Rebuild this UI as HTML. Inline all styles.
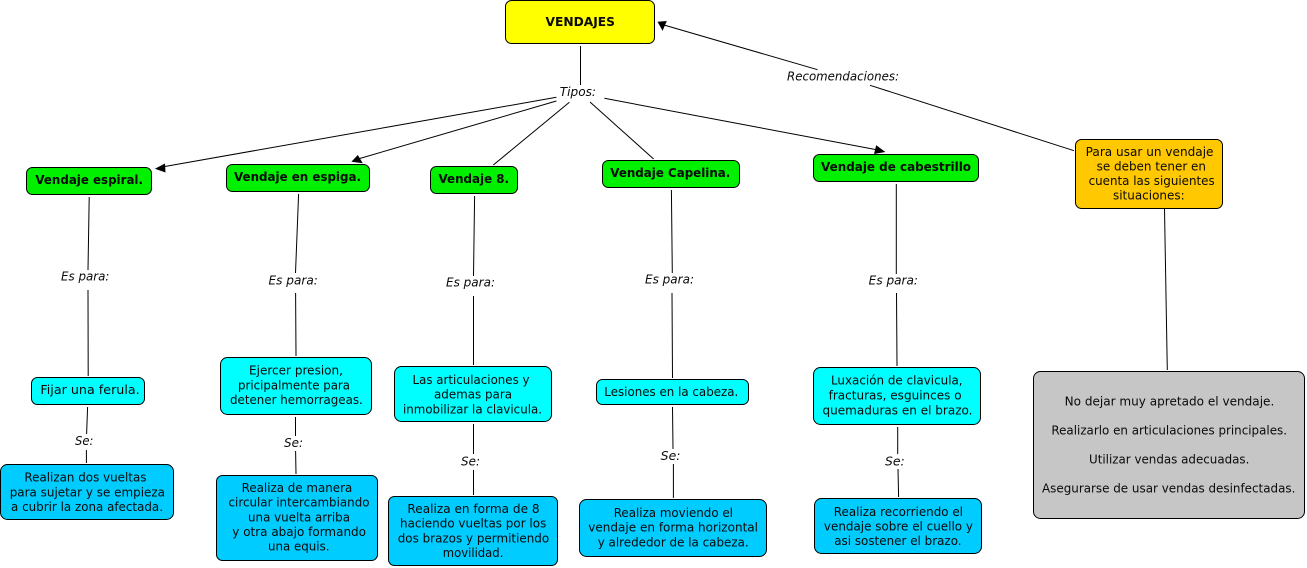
<!DOCTYPE html>
<html lang="es"><head><meta charset="utf-8"><title>Vendajes</title>
<style>
html,body{margin:0;padding:0;background:#fff;width:1307px;height:568px;overflow:hidden}
svg{display:block}
text{font-family:"DejaVu Sans","Liberation Sans",sans-serif;font-size:12px;fill:#0a0a0a}
.b{font-weight:bold}
.i{font-style:italic}
rect{stroke:#000;stroke-width:1}
line{stroke:#000;stroke-width:1}
polygon{fill:#000}
</style></head><body>
<svg width="1307" height="568" viewBox="0 0 1307 568" xmlns="http://www.w3.org/2000/svg">
<g>
<line x1="580.5" y1="46" x2="580.5" y2="85"/>
<line x1="556.4" y1="97.3" x2="162" y2="167"/>
<line x1="556.4" y1="101" x2="358" y2="159"/>
<line x1="569.4" y1="102.3" x2="493.3" y2="165"/>
<line x1="590" y1="102" x2="653.6" y2="159"/>
<line x1="604.4" y1="98.3" x2="878" y2="150"/>
<line x1="817.6" y1="69.7" x2="664" y2="25"/>
<line x1="870" y1="85.3" x2="1074" y2="150.7"/>
<line x1="89.2" y1="197" x2="88" y2="270"/><line x1="88" y1="290" x2="88.2" y2="376"/>
<line x1="298.6" y1="194" x2="295.5" y2="273"/><line x1="295.6" y1="293" x2="296" y2="356"/>
<line x1="474.6" y1="196" x2="473.5" y2="276"/><line x1="473.5" y1="296" x2="473.5" y2="365"/>
<line x1="671.4" y1="190" x2="672.3" y2="273"/><line x1="672" y1="293" x2="672.5" y2="378"/>
<line x1="896.3" y1="184" x2="896.3" y2="274"/><line x1="896.5" y1="293" x2="897" y2="366"/>
<line x1="1164.5" y1="209" x2="1167.3" y2="370"/>
<line x1="87.6" y1="407" x2="86.6" y2="434"/><line x1="86.4" y1="450" x2="86.4" y2="463"/>
<line x1="295.5" y1="417" x2="295.5" y2="436"/><line x1="295.6" y1="451" x2="296" y2="474"/>
<line x1="473.5" y1="424" x2="473.5" y2="454"/><line x1="473.5" y1="470" x2="473.5" y2="495"/>
<line x1="672.5" y1="407" x2="673" y2="449"/><line x1="673.4" y1="464" x2="673.4" y2="498"/>
<line x1="897.7" y1="427" x2="897.7" y2="454"/><line x1="898" y1="469" x2="898.6" y2="497"/>
<polygon points="154.9,168.7 165,163.5 165.5,172.5"/>
<polygon points="351.4,161.7 357.8,155 362.8,163.3"/>
<polygon points="885.4,152 876.2,145.3 874,154"/>
<polygon points="657.5,21.7 666.8,21 662.6,30.7"/>
</g>
<g>
<rect x="505.5" y="0.5" width="149" height="43" rx="6" fill="#ffff00"/>
<rect x="26.5" y="167.5" width="125" height="27" rx="6" fill="#00f000"/>
<rect x="226.5" y="164.5" width="143" height="27" rx="6" fill="#00f000"/>
<rect x="430.5" y="166.5" width="87" height="27" rx="6" fill="#00f000"/>
<rect x="602.5" y="160.5" width="137" height="27" rx="6" fill="#00f000"/>
<rect x="813.5" y="154.5" width="165" height="27" rx="6" fill="#00f000"/>
<rect x="1075.5" y="139.5" width="147" height="69" rx="6" fill="#ffc800"/>
<rect x="31.5" y="377.5" width="113" height="27" rx="6" fill="#00ffff"/>
<rect x="220.5" y="357.5" width="151" height="57" rx="7" fill="#00ffff"/>
<rect x="394.5" y="366.5" width="157" height="55" rx="7" fill="#00ffff"/>
<rect x="596.5" y="379.5" width="152" height="25" rx="6" fill="#00ffff"/>
<rect x="813.5" y="367.5" width="167" height="57" rx="7" fill="#00ffff"/>
<rect x="0.5" y="464.5" width="173" height="55" rx="7" fill="#00ccff"/>
<rect x="216.5" y="475.5" width="161" height="85" rx="6" fill="#00ccff"/>
<rect x="388.5" y="496.5" width="169" height="69" rx="6" fill="#00ccff"/>
<rect x="579.5" y="499.5" width="187" height="57" rx="7" fill="#00ccff"/>
<rect x="814.5" y="498.5" width="167" height="55" rx="7" fill="#00ccff"/>
<rect x="1033.5" y="371.5" width="271" height="147" rx="7" fill="#c6c6c6"/>
</g>
<g>
<text class="b" x="545.5" y="26" textLength="69.5" lengthAdjust="spacingAndGlyphs">VENDAJES</text>
<text class="b" x="35.4" y="184" textLength="107.6" lengthAdjust="spacingAndGlyphs">Vendaje espiral.</text>
<text class="b" x="234" y="181" textLength="127" lengthAdjust="spacingAndGlyphs">Vendaje en espiga.</text>
<text class="b" x="438.5" y="183" textLength="70.5" lengthAdjust="spacingAndGlyphs">Vendaje 8.</text>
<text class="b" x="610.3" y="177" textLength="120" lengthAdjust="spacingAndGlyphs">Vendaje Capelina.</text>
<text class="b" x="821" y="171" textLength="150" lengthAdjust="spacingAndGlyphs">Vendaje de cabestrillo</text>

<text x="1085.7" y="156" textLength="127.8" lengthAdjust="spacingAndGlyphs">Para usar un vendaje</text>
<text x="1096.6" y="170.7" textLength="109.4" lengthAdjust="spacingAndGlyphs">se deben tener en</text>
<text x="1088.6" y="185" textLength="126.1" lengthAdjust="spacingAndGlyphs">cuenta las siguientes</text>
<text x="1113" y="199.7" textLength="71.6" lengthAdjust="spacingAndGlyphs">situaciones:</text>

<text class="i" x="559.8" y="96" textLength="36.2" lengthAdjust="spacingAndGlyphs">Tipos:</text>
<text class="i" x="787" y="80.7" textLength="112" lengthAdjust="spacingAndGlyphs">Recomendaciones:</text>
<text class="i" x="61" y="280.7" textLength="48.4" lengthAdjust="spacingAndGlyphs">Es para:</text>
<text class="i" x="268.5" y="284.7" textLength="49.3" lengthAdjust="spacingAndGlyphs">Es para:</text>
<text class="i" x="446" y="286.7" textLength="49" lengthAdjust="spacingAndGlyphs">Es para:</text>
<text class="i" x="645" y="283.7" textLength="49" lengthAdjust="spacingAndGlyphs">Es para:</text>
<text class="i" x="868.7" y="284.7" textLength="49.3" lengthAdjust="spacingAndGlyphs">Es para:</text>
<text class="i" x="75" y="445" textLength="18.4" lengthAdjust="spacingAndGlyphs">Se:</text>
<text class="i" x="284" y="447" textLength="19" lengthAdjust="spacingAndGlyphs">Se:</text>
<text class="i" x="461" y="465.7" textLength="19" lengthAdjust="spacingAndGlyphs">Se:</text>
<text class="i" x="660.7" y="460" textLength="19.8" lengthAdjust="spacingAndGlyphs">Se:</text>
<text class="i" x="885" y="465.3" textLength="19.7" lengthAdjust="spacingAndGlyphs">Se:</text>

<text x="40.4" y="394" textLength="99.3" lengthAdjust="spacingAndGlyphs">Fijar una ferula.</text>

<text x="249" y="374.7" textLength="94" lengthAdjust="spacingAndGlyphs">Ejercer presion,</text>
<text x="238" y="389.3" textLength="112" lengthAdjust="spacingAndGlyphs">pricipalmente para</text>
<text x="230" y="404" textLength="132.8" lengthAdjust="spacingAndGlyphs">detener hemorrageas.</text>

<text x="412.5" y="384" textLength="117" lengthAdjust="spacingAndGlyphs">Las articulaciones y</text>
<text x="434" y="398.7" textLength="78" lengthAdjust="spacingAndGlyphs">ademas para</text>
<text x="403" y="413.3" textLength="139" lengthAdjust="spacingAndGlyphs">inmobilizar la clavicula.</text>

<text x="604.3" y="396" textLength="134" lengthAdjust="spacingAndGlyphs">Lesiones en la cabeza.</text>

<text x="831" y="384.7" textLength="131.6" lengthAdjust="spacingAndGlyphs">Luxación de clavicula,</text>
<text x="828.6" y="399.3" textLength="133" lengthAdjust="spacingAndGlyphs">fracturas, esguinces o</text>
<text x="822.5" y="414.7" textLength="150" lengthAdjust="spacingAndGlyphs">quemaduras en el brazo.</text>

<text x="24.4" y="481.7" textLength="122.1" lengthAdjust="spacingAndGlyphs">Realizan dos vueltas</text>
<text x="9.7" y="496.3" textLength="155.3" lengthAdjust="spacingAndGlyphs">para sujetar y se empieza</text>
<text x="11" y="511" textLength="152" lengthAdjust="spacingAndGlyphs">a cubrir la zona afectada.</text>

<text x="241.6" y="492" textLength="110.7" lengthAdjust="spacingAndGlyphs">Realiza de manera</text>
<text x="228.5" y="506.7" textLength="141" lengthAdjust="spacingAndGlyphs">circular intercambiando</text>
<text x="248" y="521.3" textLength="102" lengthAdjust="spacingAndGlyphs">una vuelta arriba</text>
<text x="232.3" y="536" textLength="133.7" lengthAdjust="spacingAndGlyphs">y otra abajo formando</text>
<text x="268" y="550.7" textLength="61.5" lengthAdjust="spacingAndGlyphs">una equis.</text>

<text x="407.4" y="513" textLength="132.2" lengthAdjust="spacingAndGlyphs">Realiza en forma de 8</text>
<text x="400" y="527.7" textLength="146.3" lengthAdjust="spacingAndGlyphs">haciendo vueltas por los</text>
<text x="397.7" y="542.3" textLength="151.5" lengthAdjust="spacingAndGlyphs">dos brazos y permitiendo</text>
<text x="442.8" y="557" textLength="60.6" lengthAdjust="spacingAndGlyphs">movilidad.</text>

<text x="613.7" y="517" textLength="119.3" lengthAdjust="spacingAndGlyphs">Realiza moviendo el</text>
<text x="588.3" y="531.7" textLength="169.7" lengthAdjust="spacingAndGlyphs">vendaje en forma horizontal</text>
<text x="597.7" y="546.3" textLength="151" lengthAdjust="spacingAndGlyphs">y alrededor de la cabeza.</text>

<text x="833.8" y="516" textLength="129.2" lengthAdjust="spacingAndGlyphs">Realiza recorriendo el</text>
<text x="823.9" y="530.7" textLength="149.1" lengthAdjust="spacingAndGlyphs">vendaje sobre el cuello y</text>
<text x="834.2" y="545" textLength="127.4" lengthAdjust="spacingAndGlyphs">asi sostener el brazo.</text>

<text x="1064.6" y="405.3" textLength="209.7" lengthAdjust="spacingAndGlyphs">No dejar muy apretado el vendaje.</text>
<text x="1051.4" y="434.7" textLength="235.6" lengthAdjust="spacingAndGlyphs">Realizarlo en articulaciones principales.</text>
<text x="1089" y="463.7" textLength="160.4" lengthAdjust="spacingAndGlyphs">Utilizar vendas adecuadas.</text>
<text x="1042" y="492.7" textLength="253.4" lengthAdjust="spacingAndGlyphs">Asegurarse de usar vendas desinfectadas.</text>
</g>
</svg>
</body></html>
